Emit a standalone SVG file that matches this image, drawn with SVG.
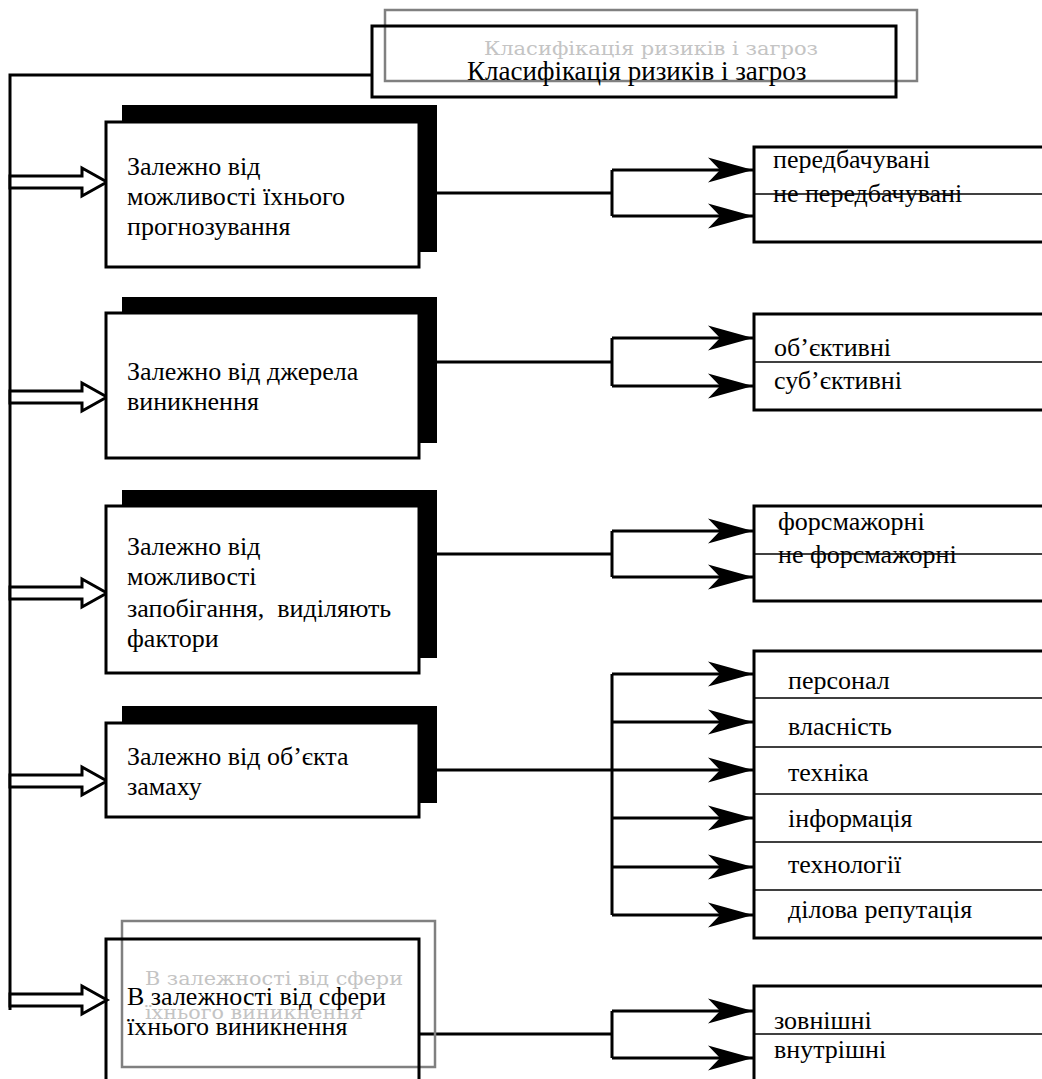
<svg xmlns="http://www.w3.org/2000/svg" width="1042" height="1079" viewBox="0 0 1042 1079">
<defs>
<style>
text{font-family:'Liberation Serif',serif}
.t{font-size:26px;fill:#000}
.s{font-size:26px;fill:#000}
.g{font-family:'DejaVu Serif',serif;font-size:19px;fill:#c4c4c4}
.box{fill:#fff;stroke:#000;stroke-width:3}
.open{fill:none;stroke:#000;stroke-width:3}
.ghost{fill:none;stroke:#808080;stroke-width:2.5}
.sh{fill:#000}
.ln{fill:none;stroke:#000;stroke-width:3}
.dv{fill:none;stroke:#000;stroke-width:1.5}
.ha{fill:#fff;stroke:#000;stroke-width:3;stroke-linejoin:miter}
</style>
<marker id="ah" markerUnits="userSpaceOnUse" markerWidth="46" markerHeight="28" refX="45" refY="13" orient="auto" viewBox="0 0 46 26">
<path d="M45,13 L0,0.5 L12,13 L0,25.5 Z" fill="#000"/>
</marker>
</defs>

<g id="connectors">
<path class="ln" d="M372,75 H10 V1010"/>
<polygon class="ha" points="10,176 82,176 82,168 107,182 82,196 82,188 10,188"/>
<polygon class="ha" points="10,391 82,391 82,383 107,397 82,411 82,403 10,403"/>
<polygon class="ha" points="10,587 82,587 82,579 107,593 82,607 82,599 10,599"/>
<polygon class="ha" points="10,775 82,775 82,767 107,781 82,795 82,787 10,787"/>
<polygon class="ha" points="10,994 82,994 82,986 107,1000 82,1014 82,1006 10,1006"/>

<path class="ln" d="M437,193 H612 M612,170 V216"/>
<path class="ln" d="M612,170 H753" marker-end="url(#ah)"/>
<path class="ln" d="M612,216 H753" marker-end="url(#ah)"/>

<path class="ln" d="M437,362 H612 M612,338 V386"/>
<path class="ln" d="M612,338 H753" marker-end="url(#ah)"/>
<path class="ln" d="M612,386 H753" marker-end="url(#ah)"/>

<path class="ln" d="M437,554 H612 M612,531 V577"/>
<path class="ln" d="M612,531 H753" marker-end="url(#ah)"/>
<path class="ln" d="M612,577 H753" marker-end="url(#ah)"/>

<path class="ln" d="M437,770 H612 M612,674 V915"/>
<path class="ln" d="M612,674 H753" marker-end="url(#ah)"/>
<path class="ln" d="M612,722 H753" marker-end="url(#ah)"/>
<path class="ln" d="M612,770 H753" marker-end="url(#ah)"/>
<path class="ln" d="M612,818 H753" marker-end="url(#ah)"/>
<path class="ln" d="M612,867 H753" marker-end="url(#ah)"/>
<path class="ln" d="M612,915 H753" marker-end="url(#ah)"/>

<path class="ln" d="M420,1034 H612 M612,1011 V1058"/>
<path class="ln" d="M612,1011 H753" marker-end="url(#ah)"/>
<path class="ln" d="M612,1058 H753" marker-end="url(#ah)"/>
</g>

<g id="title">
<rect class="ghost" x="385" y="10" width="532" height="71"/>
<text class="g" x="484" y="55" textLength="334" lengthAdjust="spacingAndGlyphs">Класифікація ризиків і загроз</text>
<rect class="open" x="372" y="26" width="524" height="71"/>
<text class="t" x="467" y="80" style="font-size:27px">Класифікація ризиків і загроз</text>
</g>

<g id="n1">
<rect class="sh" x="122" y="105" width="315" height="147"/>
<rect class="box" x="106" y="122" width="313" height="145"/>
<text class="t" x="127" y="175">Залежно від</text>
<text class="t" x="127" y="205">можливості їхнього</text>
<text class="t" x="127" y="235">прогнозування</text>
</g>

<g id="n2">
<rect class="sh" x="122" y="297" width="315" height="146"/>
<rect class="box" x="106" y="313" width="313" height="145"/>
<text class="t" x="127" y="380">Залежно від джерела</text>
<text class="t" x="127" y="410">виникнення</text>
</g>

<g id="n3">
<rect class="sh" x="122" y="490" width="315" height="168"/>
<rect class="box" x="106" y="506" width="313" height="167"/>
<text class="t" x="127" y="555">Залежно від</text>
<text class="t" x="127" y="585">можливості</text>
<text class="t" x="127" y="617" xml:space="preserve">запобігання,  виділяють</text>
<text class="t" x="127" y="647">фактори</text>
</g>

<g id="n4">
<rect class="sh" x="122" y="706" width="315" height="97"/>
<rect class="box" x="106" y="723" width="313" height="94"/>
<text class="t" x="127" y="765">Залежно від об’єкта</text>
<text class="t" x="127" y="795">замаху</text>
</g>

<g id="n5">
<rect class="ghost" x="122" y="921" width="313" height="146"/>
<text class="g" x="145" y="985" textLength="258" lengthAdjust="spacingAndGlyphs">В залежності від сфери</text>
<text class="g" x="145" y="1019" textLength="218" lengthAdjust="spacingAndGlyphs">їхнього виникнення</text>
<path class="ln" d="M106,1085 V939 H419 V1085"/>
<text class="t" x="127" y="1005">В залежності від сфери</text>
<text class="t" x="127" y="1035">їхнього виникнення</text>
</g>

<g id="r1">
<rect class="box" x="754" y="147" width="300" height="95"/>
<path class="dv" d="M754,194 H1042"/>
<text class="s" x="773" y="168">передбачувані</text>
<text class="s" x="773" y="202">не передбачувані</text>
</g>

<g id="r2">
<rect class="box" x="754" y="314" width="300" height="96"/>
<path class="dv" d="M754,362 H1042"/>
<text class="s" x="774" y="356">об’єктивні</text>
<text class="s" x="774" y="389">суб’єктивні</text>
</g>

<g id="r3">
<rect class="box" x="754" y="506" width="300" height="95"/>
<path class="dv" d="M754,554 H1042"/>
<text class="s" x="778" y="530">форсмажорні</text>
<text class="s" x="778" y="563">не форсмажорні</text>
</g>

<g id="r4">
<rect class="box" x="754" y="651" width="300" height="287"/>
<path class="dv" d="M754,698 H1042 M754,747 H1042 M754,794 H1042 M754,842 H1042 M754,890 H1042"/>
<text class="s" x="788" y="689">персонал</text>
<text class="s" x="788" y="735">власність</text>
<text class="s" x="788" y="781">техніка</text>
<text class="s" x="788" y="827">інформація</text>
<text class="s" x="788" y="873">технології</text>
<text class="s" x="788" y="918">ділова репутація</text>
</g>

<g id="r5">
<path class="ln" d="M754,1085 V986 H1050"/>
<path class="dv" d="M754,1034 H1042"/>
<text class="s" x="774" y="1029">зовнішні</text>
<text class="s" x="774" y="1058">внутрішні</text>
</g>
</svg>
